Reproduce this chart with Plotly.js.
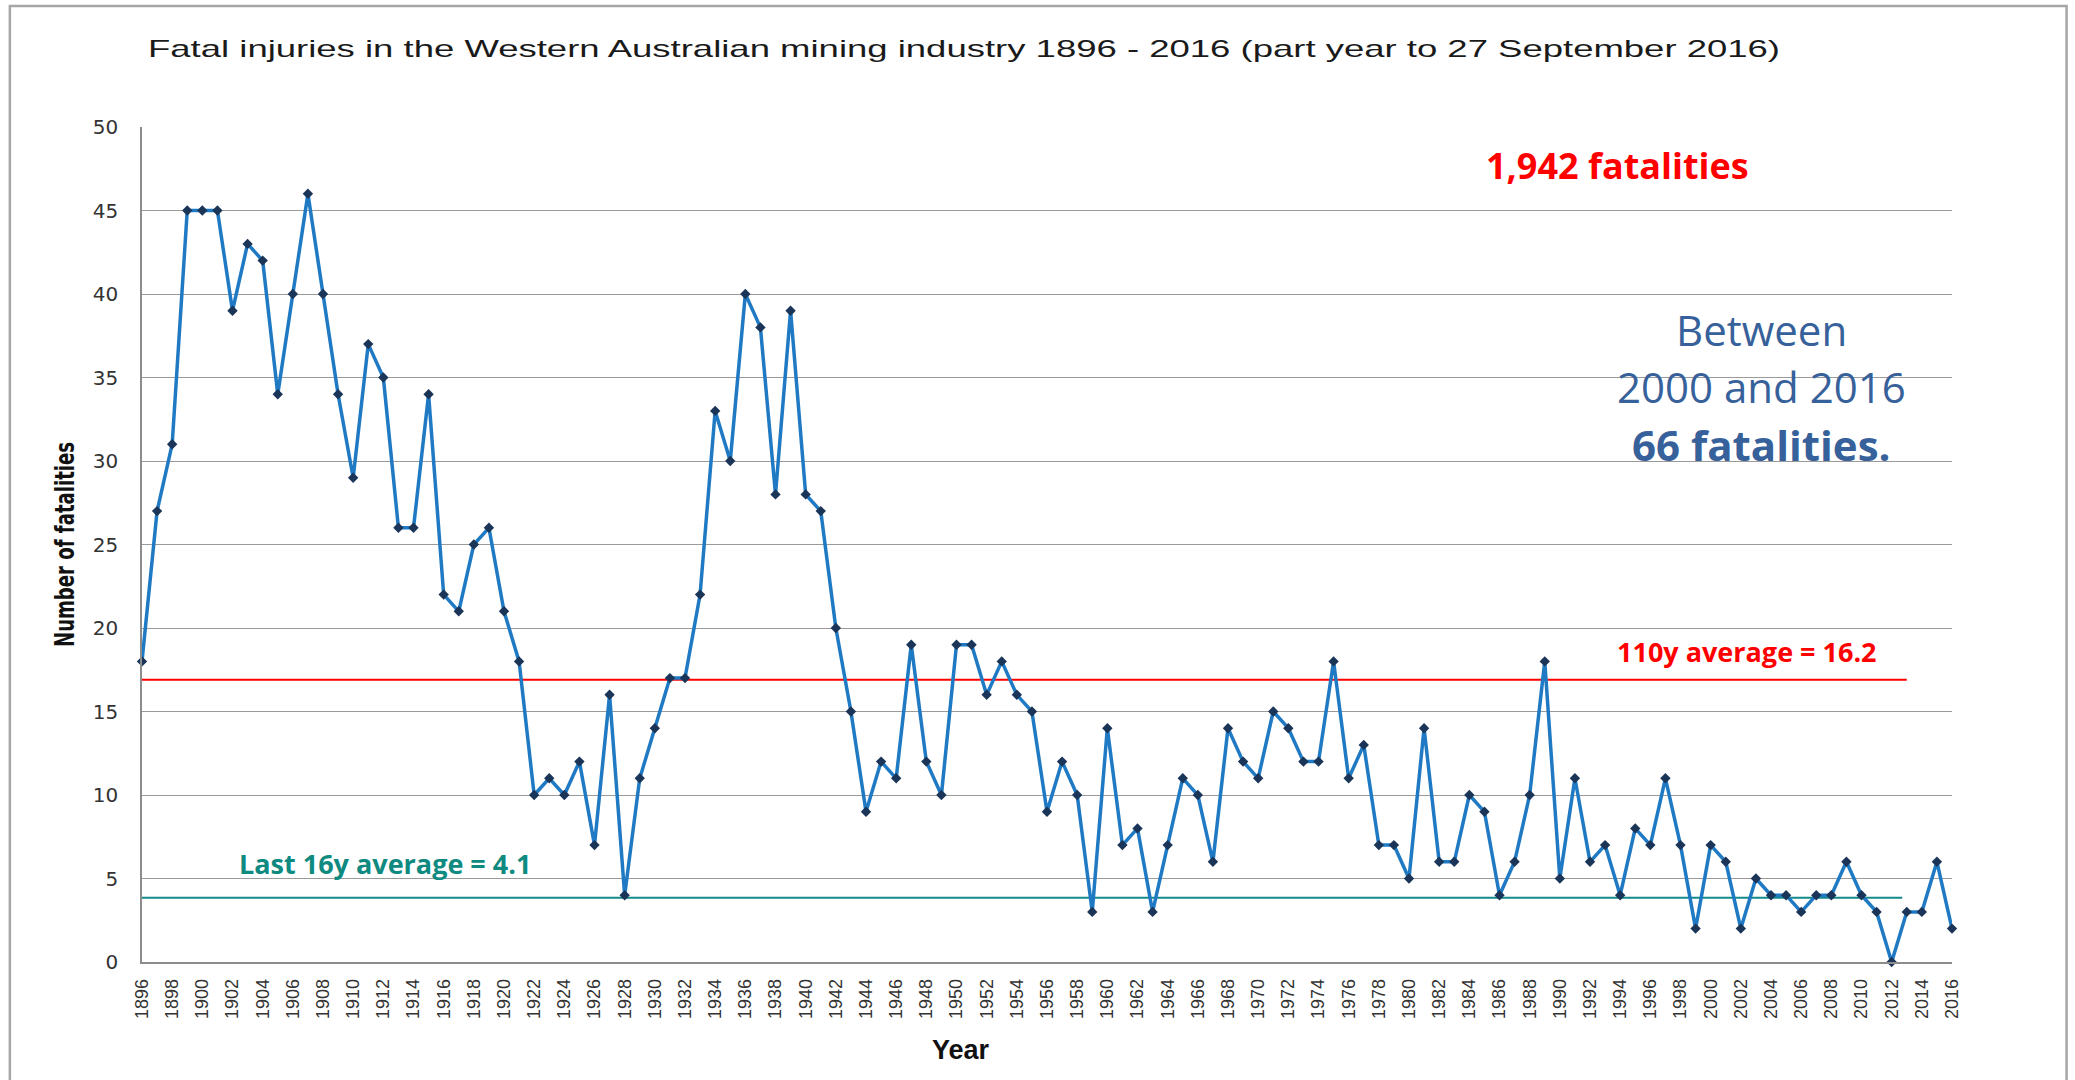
<!DOCTYPE html>
<html>
<head>
<meta charset="utf-8">
<script src="https://cdn.plot.ly/plotly-3.0.1.min.js"></script>
<style>
  html, body { margin: 0; padding: 0; background: #ffffff; }
  #chart { width: 2075px; height: 1080px; }
</style>
</head>
<body>
<div id="chart"></div>
<script>
// ---- data ----
const years = [
  1896,1897,1898,1899,1900,1901,1902,1903,1904,1905,
  1906,1907,1908,1909,1910,1911,1912,1913,1914,1915,
  1916,1917,1918,1919,1920,1921,1922,1923,1924,1925,
  1926,1927,1928,1929,1930,1931,1932,1933,1934,1935,
  1936,1937,1938,1939,1940,1941,1942,1943,1944,1945,
  1946,1947,1948,1949,1950,1951,1952,1953,1954,1955,
  1956,1957,1958,1959,1960,1961,1962,1963,1964,1965,
  1966,1967,1968,1969,1970,1971,1972,1973,1974,1975,
  1976,1977,1978,1979,1980,1981,1982,1983,1984,1985,
  1986,1987,1988,1989,1990,1991,1992,1993,1994,1995,
  1996,1997,1998,1999,2000,2001,2002,2003,2004,2005,
  2006,2007,2008,2009,2010,2011,2012,2013,2014,2015,
  2016
];
const fatalities = [
  18,27,31,45,45,45,39,43,42,34,
  40,46,40,34,29,37,35,26,26,34,
  22,21,25,26,21,18,10,11,10,12,
  7,16,4,11,14,17,17,22,33,30,
  40,38,28,39,28,27,20,15,9,12,
  11,19,12,10,19,19,16,18,16,15,
  9,12,10,3,14,7,8,3,7,11,
  10,6,14,12,11,15,14,12,12,18,
  11,13,7,7,5,14,6,6,10,9,
  4,6,10,18,5,11,6,7,4,8,
  7,11,7,2,7,6,2,5,4,4,
  3,4,4,6,4,3,0,3,3,6,
  2
];
const xTickYears = [
  1896,1898,1900,1902,1904,1906,1908,1910,1912,1914,1916,1918,1920,
  1922,1924,1926,1928,1930,1932,1934,1936,1938,1940,1942,1944,1946,
  1948,1950,1952,1954,1956,1958,1960,1962,1964,1966,1968,1970,1972,
  1974,1976,1978,1980,1982,1984,1986,1988,1990,1992,1994,1996,1998,
  2000,2002,2004,2006,2008,2010,2012,2014,2016
];
const yTicks = [0,5,10,15,20,25,30,35,40,45,50];
// average reference lines as drawn in the picture: [level, fromYear, toYear]
const longAverageLine = [16.9, 1895.8, 2013.0];
const recentAverageLine = [3.85, 1895.8, 2012.7];

const titleText = 'Fatal injuries in the Western Australian mining industry 1896 - 2016 (part year to 27 September 2016)';
const noteLines = ['Between', '2000 and 2016', '<b>66 fatalities.</b>'];

const trace = {
  type: 'scatter',
  mode: 'lines+markers',
  x: years,
  y: fatalities,
  line: { color: '#1F7AC3', width: 3.5 },
  marker: { symbol: 'diamond', size: 8, color: '#1B3558' },
  cliponaxis: false,
  hoverinfo: 'x+y',
  showlegend: false
};

const frameColor = '#A6A6A6';

const layout = {
  width: 2075,
  height: 1080,
  margin: { l: 142, r: 123, t: 127, b: 118 },
  paper_bgcolor: '#ffffff',
  plot_bgcolor: '#ffffff',
  showlegend: false,
  title: {
    text: titleText,
    xref: 'container', x: 0.4646, xanchor: 'center',
    yref: 'container', y: 0.955, yanchor: 'middle',
    font: { family: 'Liberation Sans, Arial, sans-serif', size: 24, color: '#1a1a1a' }
  },
  xaxis: {
    range: [1896, 2016],
    tickmode: 'array',
    tickvals: xTickYears,
    ticktext: xTickYears.map(String),
    tickangle: -90,
    ticks: '',
    ticklabelstandoff: 8,
    tickfont: { family: 'Liberation Sans, Arial, sans-serif', size: 18, color: '#333333' },
    showgrid: false,
    zeroline: false,
    showline: true,
    linecolor: '#8C8C8C',
    linewidth: 1.5,
    automargin: false
  },
  yaxis: {
    range: [0, 50],
    tickmode: 'array',
    tickvals: yTicks,
    ticks: '',
    ticklabelstandoff: 18,
    tickfont: { family: 'DejaVu Sans, sans-serif', size: 20, color: '#333333' },
    showgrid: true,
    gridcolor: '#9A9A9A',
    gridwidth: 1.2,
    zeroline: false,
    showline: true,
    linecolor: '#8C8C8C',
    linewidth: 1.5,
    automargin: false,
    title: {
      text: 'Number of fatalities',
      standoff: 10,
      font: { family: 'Liberation Sans Narrow, DejaVu Sans Condensed, Liberation Sans, sans-serif', size: 27, color: '#111111', weight: 'bold' }
    }
  },
  shapes: [
    {
      type: 'line', xref: 'x', yref: 'y',
      x0: longAverageLine[1], x1: longAverageLine[2],
      y0: longAverageLine[0], y1: longAverageLine[0],
      line: { color: '#FF0000', width: 2 }, layer: 'below'
    },
    {
      type: 'line', xref: 'x', yref: 'y',
      x0: recentAverageLine[1], x1: recentAverageLine[2],
      y0: recentAverageLine[0], y1: recentAverageLine[0],
      line: { color: '#148A8A', width: 2 }, layer: 'below'
    },
    {
      type: 'rect', xref: 'paper', yref: 'paper',
      x0: -0.0730, x1: 1.0633, y0: -0.16, y1: 1.1449,
      line: { color: frameColor, width: 2.5 }, fillcolor: 'rgba(0,0,0,0)', layer: 'below'
    }
  ],
  annotations: [
    {
      xref: 'paper', yref: 'paper', x: 0.4526, y: -0.1054,
      text: '<b>Year</b>', showarrow: false,
      xanchor: 'center', yanchor: 'middle',
      font: { family: 'Liberation Sans, Arial, sans-serif', size: 27, color: '#111111' }
    },
    {
      xref: 'x', yref: 'y', x: 1993.8, y: 47.7,
      text: '<b>1,942 fatalities</b>', showarrow: false,
      xanchor: 'center', yanchor: 'middle',
      font: { family: 'Open Sans', size: 36, color: '#FF0000' }
    },
    {
      xref: 'x', yref: 'y', x: 2003.4, y: 37.86,
      text: noteLines[0], showarrow: false,
      xanchor: 'center', yanchor: 'middle',
      font: { family: 'Open Sans', size: 42, color: '#37619A' }
    },
    {
      xref: 'x', yref: 'y', x: 2003.4, y: 34.45,
      text: noteLines[1], showarrow: false,
      xanchor: 'center', yanchor: 'middle',
      font: { family: 'Open Sans', size: 42, color: '#37619A' }
    },
    {
      xref: 'x', yref: 'y', x: 2003.4, y: 30.98,
      text: noteLines[2], showarrow: false,
      xanchor: 'center', yanchor: 'middle',
      font: { family: 'Open Sans', size: 42, color: '#37619A' }
    },
    {
      xref: 'x', yref: 'y', x: 2002.4, y: 18.6,
      text: '<b>110y average = 16.2</b>', showarrow: false,
      xanchor: 'center', yanchor: 'middle',
      font: { family: 'Open Sans', size: 27, color: '#FF0000' }
    },
    {
      xref: 'x', yref: 'y', x: 1912.1, y: 5.87,
      text: '<b>Last 16y average = 4.1</b>', showarrow: false,
      xanchor: 'center', yanchor: 'middle',
      font: { family: 'Open Sans', size: 27, color: '#0E8A80' }
    }
  ]
};

Plotly.newPlot('chart', [trace], layout, { displayModeBar: false }).then(function (gd) {
  // the reference text is drawn horizontally stretched; match its measured lengths
  var t = gd.querySelector('.gtitle');
  if (t) { t.setAttribute('textLength', '1632'); t.setAttribute('lengthAdjust', 'spacingAndGlyphs'); }
  var yt = gd.querySelector('.ytitle');
  if (yt) { yt.setAttribute('textLength', '205'); yt.setAttribute('lengthAdjust', 'spacingAndGlyphs'); }
});
</script>
</body>
</html>
